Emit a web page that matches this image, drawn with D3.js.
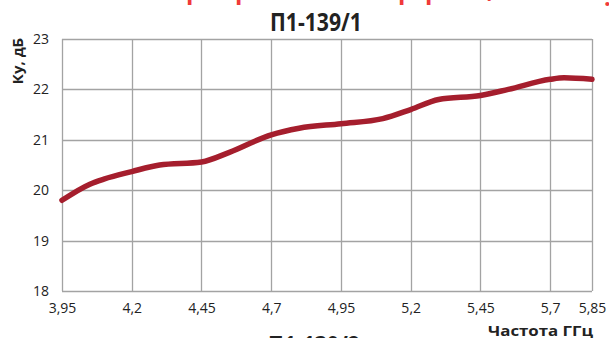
<!DOCTYPE html>
<html>
<head>
<meta charset="utf-8">
<script src="https://cdn.jsdelivr.net/npm/d3@7"></script>
<style>
  html, body { margin: 0; padding: 0; background: #fff; }
  svg { display: block; }
</style>
</head>
<body>
<svg id="chart" width="609" height="338"></svg>
<script>
// ---- data ----
const title = "П1-139/1";
const nextTitle = "П1-139/2";
const yAxisTitle = "Ку, дБ";
const xAxisTitle = "Частота ГГц";
const xTickValues = [3.95, 4.2, 4.45, 4.7, 4.95, 5.2, 5.45, 5.7, 5.85];
const yTickValues = [18, 19, 20, 21, 22, 23];
const freq = [3.95, 4.05, 4.1, 4.2, 4.3, 4.45, 4.55, 4.7, 4.8, 4.95, 5.1, 5.2, 5.3, 5.45, 5.55, 5.7, 5.75, 5.85];
const gain = [19.80, 20.12, 20.22, 20.37, 20.50, 20.56, 20.75, 21.10, 21.23, 21.32, 21.42, 21.60, 21.80, 21.88, 22.00, 22.20, 22.23, 22.20];
// fragments of red text from the part above (only descenders visible)
const redFragments = [
  {ch: "р", x: 186, base: -1}, {ch: "р", x: 235, base: -1}, {ch: "р", x: 398, base: -1},
  {ch: "р", x: 425, base: -1}, {ch: ",", x: 487, base: -2}, {ch: ".", x: 604, base: 6}
];

// ---- chart ----
const svg = d3.select("#chart");
const m = {left: 62, right: 592, top: 39, bottom: 291};
const x = d3.scaleLinear().domain([3.95, 5.85]).range([m.left, m.right]);
const y = d3.scaleLinear().domain([18, 23]).range([m.bottom, m.top]);

const gridColor = "#a3a3a3";
const textColor = "#222";
const font = "'Open Sans', sans-serif";

// red cut-off fragments at the top
svg.append("g").selectAll("text").data(redFragments).join("text")
  .attr("x", d => d.x).attr("y", d => d.base)
  .attr("font-family", font).attr("font-weight", 700).attr("font-size", 24)
  .attr("fill", "#f03a3a").text(d => d.ch);

// grid
const grid = svg.append("g");
grid.selectAll("line.v").data(xTickValues).join("line")
  .attr("x1", d => Math.round(x(d)) + 0.5).attr("x2", d => Math.round(x(d)) + 0.5)
  .attr("y1", m.top).attr("y2", m.bottom)
  .attr("stroke", gridColor).attr("stroke-width", 1.3);
grid.selectAll("line.h").data(yTickValues).join("line")
  .attr("y1", d => Math.round(y(d)) + 0.5).attr("y2", d => Math.round(y(d)) + 0.5)
  .attr("x1", m.left).attr("x2", m.right)
  .attr("stroke", gridColor).attr("stroke-width", 1.3);

// axes (labels only, via d3 axes)
const xAxis = svg.append("g").attr("transform", `translate(0,${m.bottom})`)
  .call(d3.axisBottom(x).tickValues(xTickValues).tickSize(0).tickPadding(12)
    .tickFormat(d => String(d).replace(".", ",")));
const yAxis = svg.append("g").attr("transform", `translate(${m.left},0)`)
  .call(d3.axisLeft(y).tickValues(yTickValues).tickSize(0).tickPadding(13)
    .tickFormat(d => d));
[xAxis, yAxis].forEach(a => {
  a.select(".domain").remove();
  a.selectAll("text").attr("font-family", font).attr("font-size", 14).attr("fill", textColor);
});
xAxis.selectAll("text").attr("dy", "0.71em");

// line
const line = d3.line().x((d, i) => x(freq[i])).y(d => y(d)).curve(d3.curveMonotoneX);
svg.append("path").datum(gain)
  .attr("d", line)
  .attr("fill", "none")
  .attr("stroke", "#a51e2d")
  .attr("stroke-width", 5.5)
  .attr("stroke-linecap", "round")
  .attr("stroke-linejoin", "round");

// titles
svg.append("text").attr("x", 316).attr("y", 31).attr("text-anchor", "middle")
  .attr("font-family", font).attr("font-weight", 700).attr("font-size", 25)
  .attr("fill", textColor).attr("textLength", 92).attr("lengthAdjust", "spacingAndGlyphs")
  .text(title);
svg.append("text").attr("x", 314).attr("y", 354).attr("text-anchor", "middle")
  .attr("font-family", font).attr("font-weight", 700).attr("font-size", 25)
  .attr("fill", textColor).attr("textLength", 92).attr("lengthAdjust", "spacingAndGlyphs")
  .text(nextTitle);
svg.append("text").attr("x", 593).attr("y", 336).attr("text-anchor", "end")
  .attr("font-family", font).attr("font-weight", 700).attr("font-size", 15)
  .attr("fill", textColor).attr("textLength", 105).attr("lengthAdjust", "spacingAndGlyphs")
  .text(xAxisTitle);
svg.append("text").attr("transform", "translate(23,61) rotate(-90)").attr("text-anchor", "middle")
  .attr("font-family", font).attr("font-weight", 700).attr("font-size", 15)
  .attr("fill", textColor)
  .text(yAxisTitle);
</script>
</body>
</html>
